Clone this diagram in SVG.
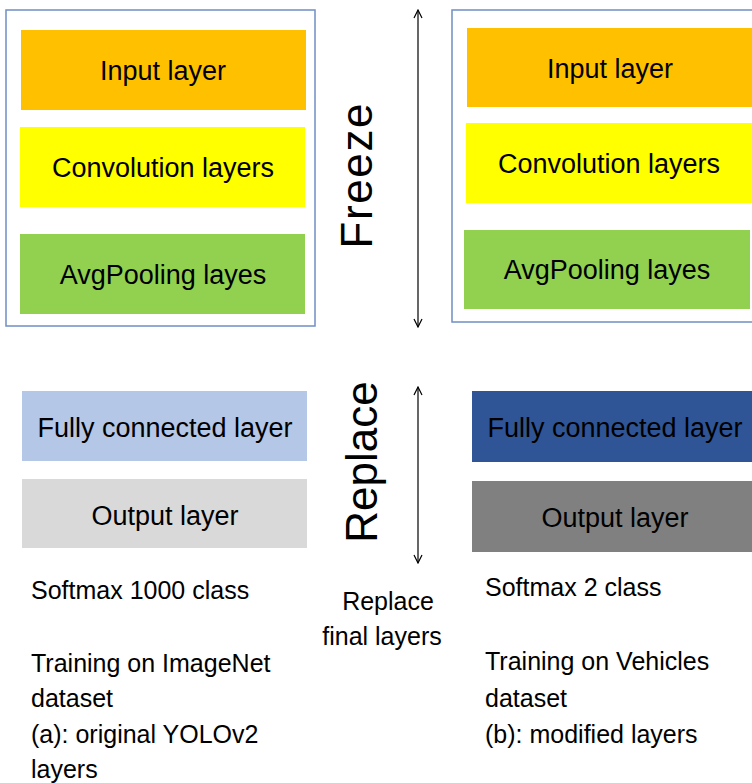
<svg xmlns="http://www.w3.org/2000/svg" width="752" height="783" viewBox="0 0 752 783">
<style>
  text { font-family: "Liberation Sans", Arial, sans-serif; fill: #000; }
  .lbl { font-size: 27px; text-anchor: middle; }
  .note { font-size: 25px; }
  .big { font-size: 44px; text-anchor: middle; }
  .frame { fill: none; stroke: #6F8FC4; stroke-width: 1.5; }
  .conn { stroke: #000; stroke-width: 1.2; fill: none; marker-start: url(#arr); marker-end: url(#arr); }
</style>
<defs>
  <marker id="arr" viewBox="0 0 10 10" refX="9" refY="5" markerWidth="10" markerHeight="10" markerUnits="userSpaceOnUse" orient="auto-start-reverse">
    <path d="M1,1 L9,5 L1,9" fill="none" stroke="#000" stroke-width="1.2"/>
  </marker>
</defs>
<rect width="752" height="783" fill="#fff"/>

<g id="frame-left"><rect class="frame" x="6" y="10" width="309" height="316"/></g>
<g id="frame-right"><rect class="frame" x="452" y="10" width="320" height="312"/></g>

<g id="input-left"><rect x="21" y="30" width="285" height="80" fill="#FFC000"/><text class="lbl" x="163" y="80">Input layer</text></g>
<g id="conv-left"><rect x="20" y="127" width="285" height="80" fill="#FFFF00"/><text class="lbl" x="163" y="177">Convolution layers</text></g>
<g id="avg-left"><rect x="20" y="234" width="285" height="80" fill="#92D050"/><text class="lbl" x="163" y="284">AvgPooling layes</text></g>

<g id="input-right"><rect x="467" y="28" width="285" height="79" fill="#FFC000"/><text class="lbl" x="610" y="78">Input layer</text></g>
<g id="conv-right"><rect x="466" y="123" width="286" height="80" fill="#FFFF00"/><text class="lbl" x="609" y="173">Convolution layers</text></g>
<g id="avg-right"><rect x="464" y="230" width="286" height="79" fill="#92D050"/><text class="lbl" x="607" y="279">AvgPooling layes</text></g>

<g id="fc-left"><rect x="22" y="391" width="285" height="70" fill="#B4C7E7"/><text class="lbl" x="165" y="437">Fully connected layer</text></g>
<g id="out-left"><rect x="22" y="479" width="285" height="69" fill="#D9D9D9"/><text class="lbl" x="165" y="525">Output layer</text></g>

<g id="fc-right"><rect x="472" y="391" width="280" height="71" fill="#2F5597"/><text class="lbl" x="615" y="437">Fully connected layer</text></g>
<g id="out-right"><rect x="472" y="481" width="280" height="71" fill="#808080"/><text class="lbl" x="615" y="527">Output layer</text></g>

<g id="freeze-label"><text class="big" transform="translate(372,176) rotate(-90)" textLength="145" lengthAdjust="spacing">Freeze</text></g>
<g id="replace-label"><text class="big" transform="translate(377,462) rotate(-90)">Replace</text></g>

<g id="connectors">
  <line class="conn" x1="418" y1="10" x2="418" y2="327"/>
  <line class="conn" x1="418" y1="387" x2="418" y2="563"/>
</g>

<g id="replace-note">
  <text class="note" x="388" y="610" text-anchor="middle">Replace</text>
  <text class="note" x="382" y="645" text-anchor="middle">final layers</text>
</g>

<g id="notes-left">
  <text class="note" x="31" y="599">Softmax 1000 class</text>
  <text class="note" x="31" y="672">Training on ImageNet</text>
  <text class="note" x="31" y="707">dataset</text>
  <text class="note" x="31" y="743">(a): original YOLOv2</text>
  <text class="note" x="31" y="778">layers</text>
</g>

<g id="notes-right">
  <text class="note" x="485" y="596">Softmax 2 class</text>
  <text class="note" x="485" y="670">Training on Vehicles</text>
  <text class="note" x="485" y="707">dataset</text>
  <text class="note" x="485" y="743">(b): modified layers</text>
</g>
</svg>
